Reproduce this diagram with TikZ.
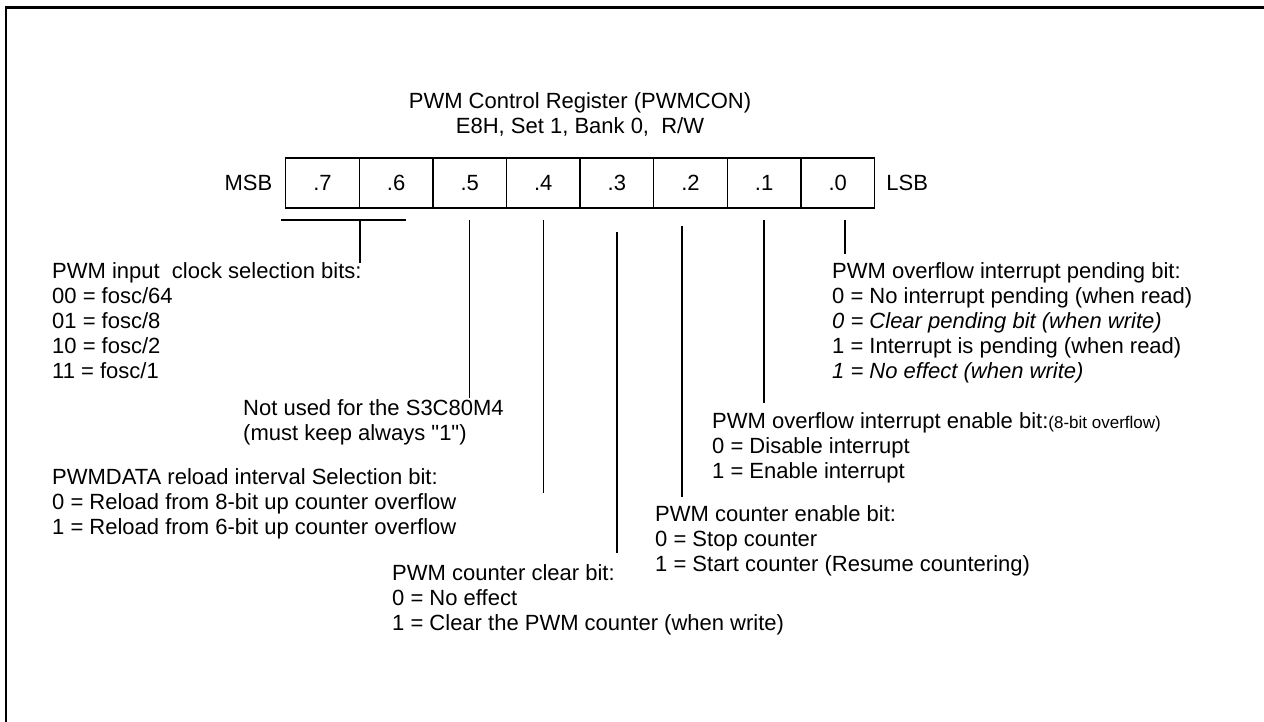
\documentclass[tikz,border=0pt]{standalone}
\usepackage{fontspec}
\setmainfont{Liberation Sans}
\usetikzlibrary{positioning}
\tikzset{
  cell/.style={draw, line width=1.4pt, minimum width=73.6pt, minimum height=50pt,
              inner sep=0pt, font=\fontsize{22}{25}\selectfont},
  lbl/.style={inner sep=0pt, font=\fontsize{22}{25}\selectfont},
  note/.style={inner sep=0pt, anchor=north west, align=left,
              font=\fontsize{22}{25}\selectfont},
  lead/.style={line width=1.3pt},
}

\begin{document}
\begin{tikzpicture}[x=1pt, y=-1pt]
        \useasboundingbox (0,0) rectangle (1264,722);
        \draw[line width=2.2pt] (6,722) -- (6,7.5) -- (1264,7.5);
        \node[lbl] (title) at (580,103) {PWM Control Register (PWMCON)};
        \node[lbl] (addr) at (580,127) {E8H, Set 1, Bank 0,\ \ R/W};
        \foreach \b [count=\i from 0] in {7,6,5,4,3,2,1,0}
          \node[cell] (b\b) at (322.5+73.6*\i,183) {.\b};
        \node[lbl, left=12.5pt of b7] (msb) {MSB};
        \node[lbl, right=11pt of b0] (lsb) {LSB};
        \node[note] (clk) at (52,262) {PWM input\ \ clock selection bits:\\00 = fosc/64\\01 = fosc/8\\10 = fosc/2\\11 = fosc/1};
        \node[note] (unused) at (243,399) {Not used for the S3C80M4\\(must keep always \textquotedbl 1\textquotedbl)};
        \node[note] (reload) at (52,468) {PWMDATA reload interval Selection bit:\\0 = Reload from 8-bit up counter overflow\\1 = Reload from 6-bit up counter overflow};
        \node[note] (clr) at (392,564) {PWM counter clear bit:\\0 = No effect\\1 = Clear the PWM counter (when write)};
        \node[note] (cnten) at (655,505) {PWM counter enable bit:\\0 = Stop counter\\1 = Start counter (Resume countering)};
        \node[note] (ovfen) at (712,412) {PWM overflow interrupt enable bit:{\fontsize{17}{25}\selectfont(8-bit overflow)}\\0 = Disable interrupt\\1 = Enable interrupt};
        \node[note] (pend) at (832,262) {PWM overflow interrupt pending bit:\\0 = No interrupt pending (when read)\\{\itshape 0 = Clear pending bit (when write)}\\1 = Interrupt is pending (when read)\\{\itshape 1 = No effect (when write)}};
        \coordinate (brl) at (281,220);
        \coordinate (brr) at (406,220);
        \draw[lead] (brl) -- (brr) (b7.south east |- brl) -- ++(0,43);
        \draw[lead] (b5.south |- brl) -- ++(0,178);
        \draw[lead] (b4.south |- brl) -- ++(0,273);
        \draw[lead] (b3.south |- 0,232) -- ++(0,321);
        \draw[lead] ([xshift=-8.5pt]b2.south |- 0,226) -- ++(0,271);
        \draw[lead] (b1.south |- brl) -- ++(0,183);
        \draw[lead] ([xshift=7.3pt]b0.south |- brl) -- ++(0,34);
      \end{tikzpicture}
\end{document}
